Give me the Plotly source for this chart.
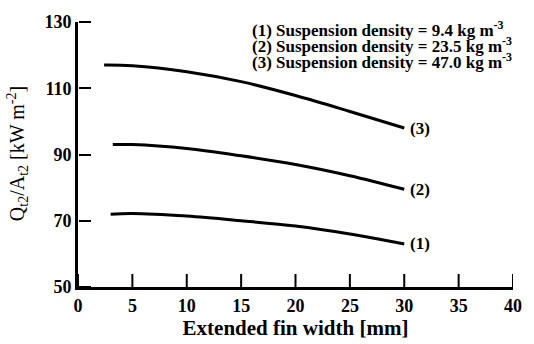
import plotly.graph_objects as go

x1 = [3.0, 5, 10, 15, 20, 25, 30]
y1 = [72.0, 72.2, 71.4, 70.0, 68.4, 66.0, 63.0]
x2 = [3.2, 5, 10, 15, 20, 25, 30]
y2 = [93.0, 93.0, 91.8, 89.6, 87.0, 83.6, 79.5]
x3 = [2.4, 5, 10, 15, 20, 25, 30]
y3 = [117.0, 116.8, 115.0, 112.0, 107.8, 103.0, 98.0]
curve_labels = ["(1)", "(2)", "(3)"]
legend_lines = [
    "(1) Suspension density = 9.4 kg m<sup>-3</sup>",
    "(2) Suspension density = 23.5 kg m<sup>-3</sup>",
    "(3) Suspension density = 47.0 kg m<sup>-3</sup>",
]
xticks = [0, 5, 10, 15, 20, 25, 30, 35, 40]
yticks = [50, 70, 90, 110, 130]
xrange_ = [0, 40]
yrange_ = [50, 130]

FONT = "Liberation Serif"
fig = go.Figure()
for xs, ys, lab in [(x1, y1, curve_labels[0]), (x2, y2, curve_labels[1]), (x3, y3, curve_labels[2])]:
    fig.add_trace(go.Scatter(x=xs, y=ys, mode="lines", line=dict(color="black", width=3, shape="spline"),
                             showlegend=False, hoverinfo="skip"))
    fig.add_annotation(x=xs[-1], y=ys[-1], text="<b>" + lab + "</b>", showarrow=False, xanchor="left", xshift=4,
                       font=dict(family=FONT, size=17, color="black"))

# invisible trace that activates the tick-only helper y axis
fig.add_trace(go.Scatter(x=[None], y=[None], xaxis="x", yaxis="y2", showlegend=False, hoverinfo="skip"))

# upward x tick marks, placed at the tick values on the x scale
for v in xticks:
    fig.add_shape(type="line", xref="x", yref="y", x0=v, x1=v, ysizemode="pixel", yanchor=yrange_[0],
                  y0=0, y1=13, line=dict(color="black", width=2), layer="above")

for i, t in enumerate(legend_lines):
    fig.add_annotation(xref="paper", yref="paper", x=0.395, y=0.975 - i * 0.062, text="<b>" + t + "</b>",
                       showarrow=False, xanchor="left", yanchor="middle",
                       font=dict(family=FONT, size=17, color="black"))

fig.add_annotation(xref="paper", yref="paper", x=-0.138, y=0.505, textangle=-90,
                   text="Q<sub>t2</sub>/A<sub>t2</sub> [kW m<sup>-2</sup>]", showarrow=False,
                   xanchor="center", yanchor="middle", font=dict(family=FONT, size=20, color="black"))

fig.update_layout(
    width=534, height=344, margin=dict(l=78, r=17, t=16, b=49),
    paper_bgcolor="white", plot_bgcolor="white",
    font=dict(family=FONT, color="black"),
    xaxis=dict(range=xrange_, tickmode="array", tickvals=xticks,
               ticktext=["<b>%d</b>" % v for v in xticks],
               showgrid=False, zeroline=False,
               showline=True, linecolor="black", linewidth=3, ticks="",
               tickfont=dict(family=FONT, size=18, color="black"),
               title=dict(text="<b>Extended fin width [mm]</b>", font=dict(family=FONT, size=21), standoff=2)),
    yaxis=dict(range=yrange_, tickmode="array", tickvals=yticks,
               ticktext=["<b>%d</b>" % v for v in yticks],
               showgrid=False, zeroline=False,
               showline=True, linecolor="black", linewidth=3, ticks="",
               tickfont=dict(family=FONT, size=18, color="black")),
    yaxis2=dict(overlaying="y", side="right", anchor="free", position=0, range=yrange_,
                tickmode="array", tickvals=yticks, ticks="outside", ticklen=12, tickwidth=2,
                tickcolor="black", showticklabels=False, showgrid=False, zeroline=False, showline=False),
)
fig.write_html("out.html")
